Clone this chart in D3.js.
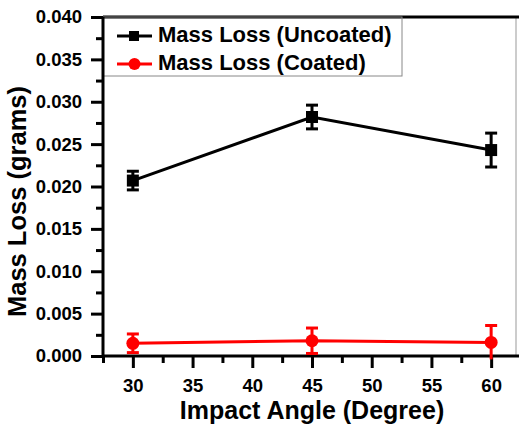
<!DOCTYPE html>
<html><head><meta charset="utf-8">
<script src="https://cdn.jsdelivr.net/npm/d3@7"></script>
<style>
html,body{margin:0;padding:0;background:#fff;}
text{font-family:"Liberation Sans",Arial,sans-serif;font-weight:bold;}
</style></head>
<body><svg id="c" width="519" height="426"></svg>
<script>
const angles = [30, 45, 60];
const uncoated = [0.0207, 0.0282, 0.0243];
const uncoatedErr = [0.0011, 0.0014, 0.0020];
const coated = [0.0015, 0.0018, 0.0016];
const coatedErr = [0.0011, 0.0015, 0.0020];
const yTicks = [0, 0.005, 0.01, 0.015, 0.02, 0.025, 0.03, 0.035, 0.04];
const yMinor = [0.0025, 0.0075, 0.0125, 0.0175, 0.0225, 0.0275, 0.0325, 0.0375];
const xTicks = [30, 35, 40, 45, 50, 55, 60];
const xMinor = [27.5, 32.5, 37.5, 42.5, 47.5, 52.5, 57.5, 62.5];
const seriesNames = ["Mass Loss (Uncoated)", "Mass Loss (Coated)"];
const colors = ["#000000", "#ff0000"];

const svg = d3.select("#c");
const L = 103, T = 17, B = 356, R = 521;
const x = d3.scaleLinear().domain([27.5, 62.5]).range([L, R]);
const y = d3.scaleLinear().domain([0, 0.04]).range([B, T]);

// right thin frame and top border
svg.append("line").attr("x1", 516).attr("x2", 516).attr("y1", T).attr("y2", B)
  .attr("stroke", "#999").attr("stroke-width", 1);
svg.append("line").attr("x1", L).attr("x2", 525).attr("y1", T).attr("y2", T)
  .attr("stroke", "#000").attr("stroke-width", 3);

// legend box
svg.append("rect").attr("x", L).attr("y", T).attr("width", 402 - L).attr("height", 76 - T)
  .attr("fill", "none").attr("stroke", "#888").attr("stroke-width", 1);

// y axis
const yAxis = svg.append("g").attr("transform", `translate(${L},0)`)
  .call(d3.axisLeft(y).tickValues(yTicks).tickSize(12).tickPadding(9).tickFormat(d3.format(".3f")));
svg.append("g").attr("transform", `translate(${L},0)`)
  .call(d3.axisLeft(y).tickValues(yMinor).tickSize(7).tickFormat(""))
  .call(g => g.select(".domain").remove());
// x axis
const xAxis = svg.append("g").attr("transform", `translate(0,${B})`)
  .call(d3.axisBottom(x).tickValues(xTicks).tickSize(12).tickPadding(11));
svg.append("g").attr("transform", `translate(0,${B})`)
  .call(d3.axisBottom(x).tickValues(xMinor).tickSize(7).tickFormat(""))
  .call(g => g.select(".domain").remove());
svg.selectAll(".domain").attr("stroke-width", 3);
yAxis.select(".domain").attr("d", `M0,${T}V${B}`);
xAxis.select(".domain").attr("d", `M${L},0H525`);
svg.selectAll(".tick line").attr("stroke-width", 3);
svg.selectAll(".tick text").attr("font-size", "18.5px").attr("font-family", '"Liberation Sans",Arial,sans-serif').attr("font-weight", "bold").attr("fill", "#000");

// axis titles
svg.append("text").attr("x", 312).attr("y", 419).attr("text-anchor", "middle")
  .attr("font-size", "25px").text("Impact Angle (Degree)");
svg.append("text").attr("transform", `translate(26,${(T + B) / 2 + 15}) rotate(-90)`).attr("text-anchor", "middle")
  .attr("font-size", "25.5px").text("Mass Loss (grams)");

function drawSeries(vals, errs, color, marker) {
  const pts = angles.map((a, i) => ({a, v: vals[i], e: errs[i]}));
  svg.append("path").datum(pts)
    .attr("d", d3.line().x(d => x(d.a)).y(d => y(d.v)))
    .attr("fill", "none").attr("stroke", color).attr("stroke-width", 3);
  const g = svg.append("g");
  pts.forEach(d => {
    const cx = x(d.a), top = y(d.v + d.e), bot = Math.min(y(d.v - d.e), B + 5);
    g.append("line").attr("x1", cx).attr("x2", cx).attr("y1", top).attr("y2", bot).attr("stroke", color).attr("stroke-width", 3);
    g.append("line").attr("x1", cx - 6).attr("x2", cx + 6).attr("y1", top).attr("y2", top).attr("stroke", color).attr("stroke-width", 3);
    if (y(d.v - d.e) <= B) g.append("line").attr("x1", cx - 6).attr("x2", cx + 6).attr("y1", bot).attr("y2", bot).attr("stroke", color).attr("stroke-width", 3);
    if (marker === "square") g.append("rect").attr("x", cx - 6).attr("y", y(d.v) - 6).attr("width", 12).attr("height", 12).attr("fill", color);
    else g.append("circle").attr("cx", cx).attr("cy", y(d.v)).attr("r", 6.5).attr("fill", color);
  });
}
drawSeries(uncoated, uncoatedErr, colors[0], "square");
drawSeries(coated, coatedErr, colors[1], "circle");

// legend
const legY = [36, 64];
seriesNames.forEach((n, i) => {
  const g = svg.append("g");
  g.append("line").attr("x1", 117).attr("x2", 152).attr("y1", legY[i]).attr("y2", legY[i]).attr("stroke", colors[i]).attr("stroke-width", 3);
  if (i === 0) g.append("rect").attr("x", 129).attr("y", legY[i] - 5).attr("width", 10).attr("height", 10).attr("fill", colors[i]);
  else g.append("circle").attr("cx", 134.5).attr("cy", legY[i]).attr("r", 6).attr("fill", colors[i]);
  g.append("text").attr("x", 158).attr("y", legY[i] + 6).attr("font-size", "22px").text(n);
});
</script></body></html>
